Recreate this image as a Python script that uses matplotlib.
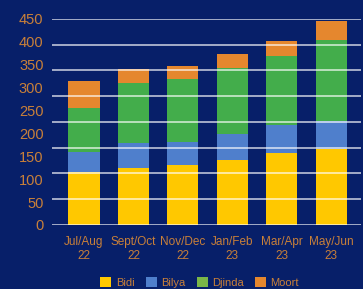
import numpy as np
import matplotlib
matplotlib.use("Agg")
import matplotlib.pyplot as plt
from matplotlib.patches import Patch

# data
periods = ["Jul/Aug\n22", "Sept/Oct\n22", "Nov/Dec\n22", "Jan/Feb\n23", "Mar/Apr\n23", "May/Jun\n23"]
bidi = [116, 125, 132, 143, 158, 167]
bilya = [44, 53, 50, 55, 61, 61]
djinda = [95, 131, 136, 144, 150, 176]
moort = [59, 31, 29, 31, 33, 42]

bg = "#071f69"
txt = "#c98039"
cols = ["#ffc800", "#4f7fcc", "#43ad4b", "#e5872e"]
legend_cols = ["#ffc800", "#4f7fcc", "#7ab648", "#e5872e"]
names = ["Bidi", "Bilya", "Djinda", "Moort"]

plt.rcParams['font.family'] = ['Liberation Sans', 'DejaVu Sans']

fig = plt.figure(figsize=(3.63, 2.89), dpi=100, facecolor=bg)
ax = fig.add_axes([0.143, 0.2215, 0.851, 0.713], facecolor=bg)

x = np.arange(len(periods))
bottom = np.zeros(len(periods))
for vals, c in zip([bidi, bilya, djinda, moort], cols):
    ax.bar(x, vals, 0.63, bottom=bottom, color=c, zorder=2)
    bottom += np.array(vals)

# gridlines sit on top of the bars in the original
for g in np.linspace(0, 450, 9):
    ax.axhline(g, color="white", lw=1.1, alpha=0.8, zorder=3)

ax.set_xlim(-0.65, 5.6)
ax.set_ylim(0, 450)
ax.set_yticks(range(0, 451, 50))
ax.set_xticks(x)
ax.set_xticklabels(periods, fontsize=8.5, color=txt, linespacing=1.25)
ax.tick_params(axis='y', labelsize=10.5, colors=txt, length=0, pad=6)
ax.tick_params(axis='x', length=0, pad=8)
for s in ax.spines.values():
    s.set_visible(False)

handles = [Patch(facecolor=c, label=n) for c, n in zip(legend_cols, names)]
leg = fig.legend(handles=handles, loc="lower center", bbox_to_anchor=(0.55, -0.03), ncol=4,
                 frameon=False, fontsize=8, handlelength=1.0, handleheight=1.0,
                 handletextpad=0.4, columnspacing=1.0)
for t in leg.get_texts():
    t.set_color(txt)

fig.savefig("out.png", dpi=100, facecolor=bg)
